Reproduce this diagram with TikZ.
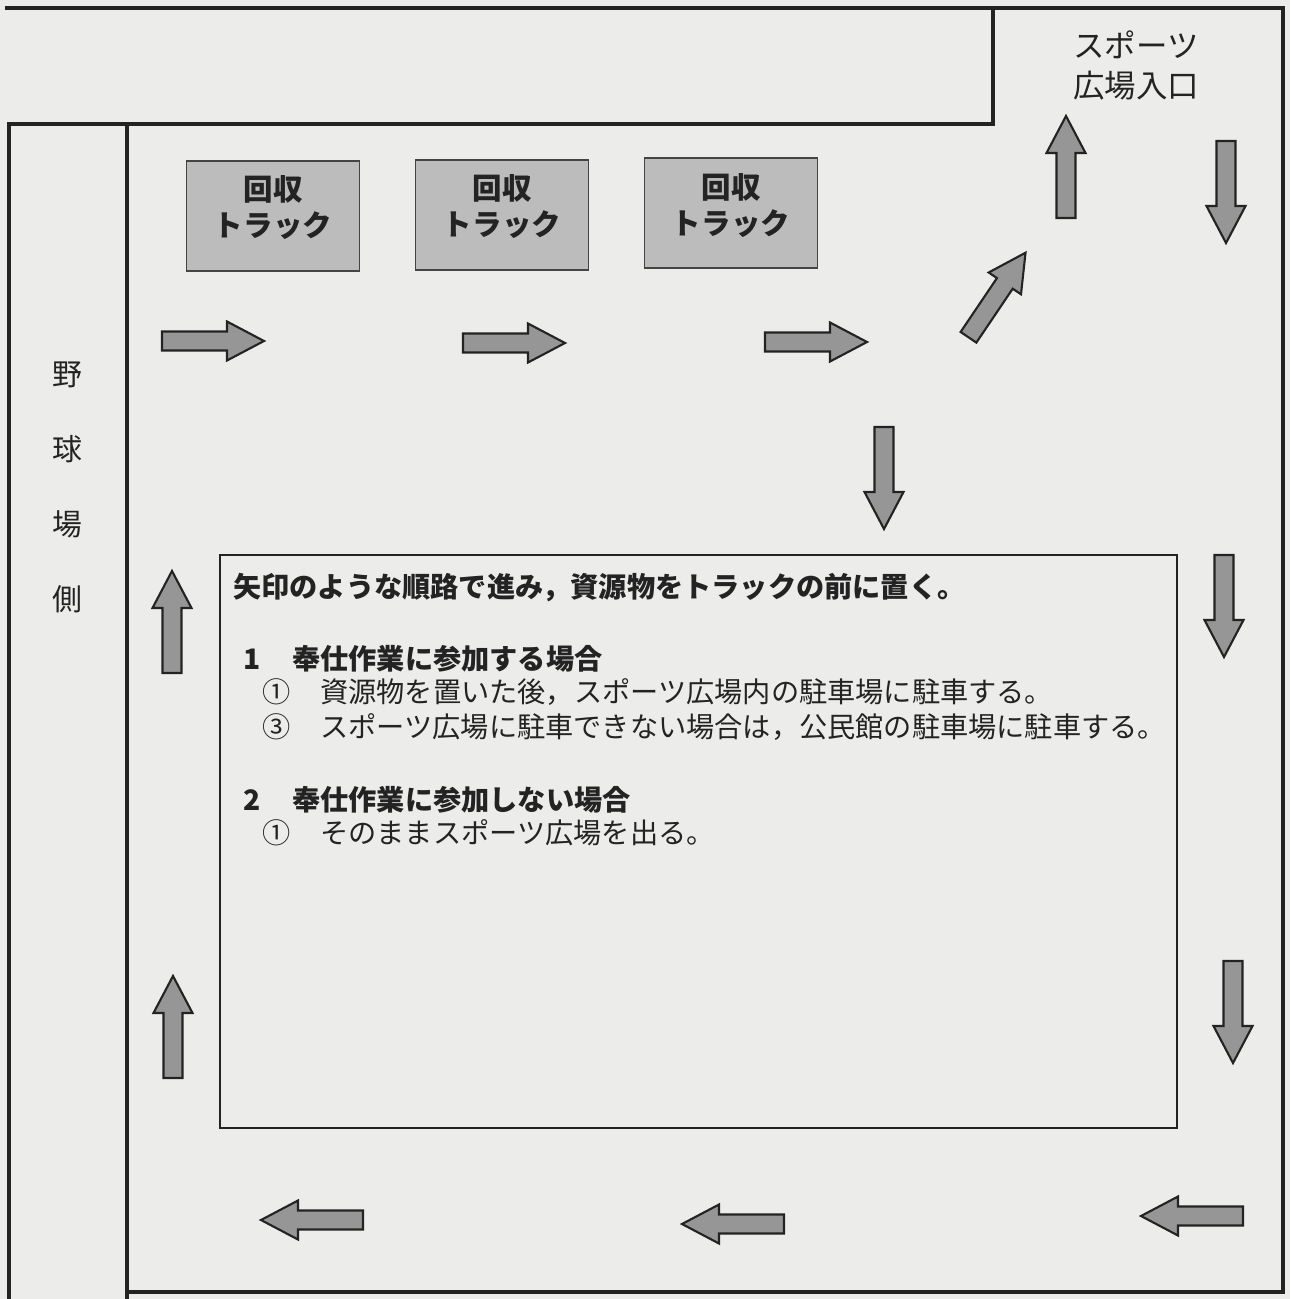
\documentclass[tikz,border=0pt]{standalone}
\usepackage{fontspec}
\newfontfamily\jp{Noto Sans CJK JP}
\definecolor{paper}{RGB}{236,236,235}
\definecolor{ink}{RGB}{35,35,35}
\definecolor{arrowgray}{RGB}{150,150,150}
\definecolor{truckgray}{RGB}{188,188,188}

\begin{document}
\begin{tikzpicture}[x=0.2mm,y=-0.2mm,
        wall/.style={draw=ink,line width=2.2pt},
        truck/.style={draw=ink!85,rectangle,fill=truckgray,line width=0.8pt,minimum width=3.46cm,minimum height=2.2cm,inner sep=0pt},
        trucktext/.style={inner sep=0pt,align=center,text=ink,font=\jp\bfseries\fontsize{16.8}{20.5}\selectfont},
        notebox/.style={draw=ink,rectangle,line width=0.6pt,minimum width=19.14cm,minimum height=11.46cm,inner sep=0pt},
        txt/.style={anchor=west,inner sep=0pt,text=ink,font=\jp\fontsize{16.05}{19}\selectfont},
        txtb/.style={txt,font=\jp\bfseries\fontsize{16.05}{19}\selectfont},
        flow/.pic={\draw[draw=ink,fill=arrowgray,line width=1.2pt,line join=miter]
          (-51,-9.5) -- (14,-9.5) -- (14,-19.5) -- (51,0) -- (14,19.5) -- (14,9.5) -- (-51,9.5) -- cycle;}
      ]
      \fill[paper] (0,0) rectangle (1290,1299);
      \useasboundingbox (0,0) rectangle (1290,1299);

      % walls
      \draw[wall] (5,8) -- (1283,8) -- (1283,1292) -- (127,1292);
      \draw[wall] (127,1299) -- (127,124);
      \draw[wall] (9,1299) -- (9,124) -- (993,124) -- (993,8);

      \node[text=ink,align=center,inner sep=0pt,font=\jp\fontsize{17.9}{22.8}\selectfont] (entrance) at (1136,65) {スポーツ\\広場入口};
      \node[text=ink,align=center,inner sep=0pt,font=\jp\fontsize{17}{42.7}\selectfont] (ballpark) at (67,487) {野\\球\\場\\側};

      \node[truck] (truck1) at (273,216) {};
      \node[truck] (truck2) at (502,215) {};
      \node[truck] (truck3) at (731,213) {};
      \node[trucktext] (label1) at (273,208) {回収\\トラック};
      \node[trucktext] (label2) at (502,207) {回収\\トラック};
      \node[trucktext] (label3) at (731,206) {回収\\トラック};

      % route
      \pic at (213,341) {flow};
      \pic at (514,343) {flow};
      \pic at (816,342) {flow};
      \pic[rotate=56] at (997,295) {flow};
      \pic[rotate=90] at (1066,167) {flow};
      \pic[rotate=-90] at (1226,192) {flow};
      \pic[rotate=-90] at (884,478) {flow};
      \pic[rotate=-90] at (1224,606) {flow};
      \pic[rotate=-90] at (1233,1012) {flow};
      \pic[rotate=180] at (1192,1216) {flow};
      \pic[rotate=180] at (733,1224) {flow};
      \pic[rotate=180] at (312,1220) {flow};
      \pic[rotate=90] at (173,1027) {flow};
      \pic[rotate=90] at (172,622) {flow};

      \node[notebox] (note) at (698.5,841.5) {};
      \node[txtb] (head) at (233,588) {矢印のような順路で進み，資源物をトラックの前に置く。};
      \node[txtb] (n1) at (243,659) {1};
      \node[txtb] (t1) at (292,659) {奉仕作業に参加する場合};
      \node[txt] (c11) at (262,692) {①};
      \node[txt] (s11) at (320,692) {資源物を置いた後，スポーツ広場内の駐車場に駐車する。};
      \node[txt] (c13) at (262,727) {③};
      \node[txt] (s13) at (320,727) {スポーツ広場に駐車できない場合は，公民館の駐車場に駐車する。};
      \node[txtb] (n2) at (243,800) {2};
      \node[txtb] (t2) at (292,800) {奉仕作業に参加しない場合};
      \node[txt] (c21) at (262,833) {①};
      \node[txt] (s21) at (320,833) {そのままスポーツ広場を出る。};
    \end{tikzpicture}
\end{document}
